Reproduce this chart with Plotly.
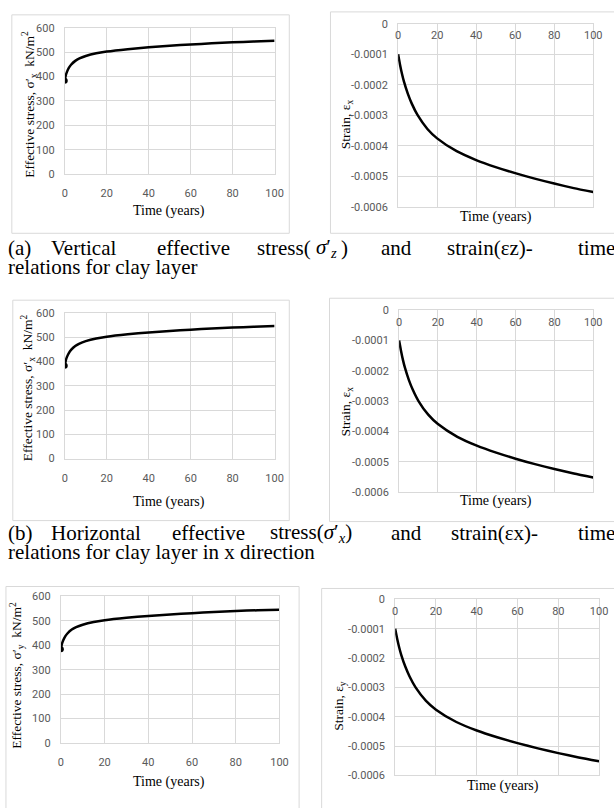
import plotly.graph_objects as go

W, H = 614, 808

# ---------------- data ----------------
time_years = [0, 0.5, 1, 2, 3, 5, 7, 10, 15, 20, 30, 40, 50, 60, 70, 80, 90, 100]

stress_z = [383, 405, 418, 436, 448, 464, 474, 484, 495, 502, 512, 520, 526, 531, 536, 540, 543, 546]
strain_z = [-0.000100, -0.000118, -0.000135, -0.000165, -0.000190, -0.000230, -0.000262, -0.000300,
            -0.000345, -0.000376, -0.000418, -0.000447, -0.000470, -0.000490, -0.000508, -0.000524,
            -0.000539, -0.000552]

stress_x = [383, 405, 418, 436, 448, 464, 474, 484, 495, 502, 512, 520, 526, 531, 536, 540, 543, 546]
strain_x = [-0.000100, -0.000118, -0.000135, -0.000165, -0.000190, -0.000230, -0.000262, -0.000300,
            -0.000345, -0.000376, -0.000418, -0.000447, -0.000470, -0.000490, -0.000508, -0.000524,
            -0.000539, -0.000552]

stress_y = [383, 405, 418, 436, 448, 464, 474, 484, 495, 502, 512, 520, 526, 531, 536, 540, 543, 545]
strain_y = [-0.000100, -0.000118, -0.000135, -0.000165, -0.000190, -0.000230, -0.000262, -0.000300,
            -0.000345, -0.000376, -0.000418, -0.000447, -0.000470, -0.000490, -0.000508, -0.000524,
            -0.000539, -0.000552]

time_ticks = [0, 20, 40, 60, 80, 100]
stress_ticks = [0, 100, 200, 300, 400, 500, 600]
strain_ticks = [0, -0.0001, -0.0002, -0.0003, -0.0004, -0.0005, -0.0006]
strain_tick_labels = ["0", "-0.0001", "-0.0002", "-0.0003", "-0.0004", "-0.0005", "-0.0006"]

stress_titles = ["Effective stress, σ′<sub>x</sub>  kN/m<sup>2</sup>",
                 "Effective stress, σ′<sub>x</sub>  kN/m<sup>2</sup>",
                 "Effective stress, σ′<sub>y</sub>  kN/m<sup>2</sup>"]
strain_titles = ["Strain, ε<sub>x</sub>", "Strain, ε<sub>x</sub>", "Strain, ε<sub>y</sub>"]
time_title = "Time (years)"

# ---------------- helpers ----------------
def px(x):
    return x / W

def py(y):
    return 1 - y / H

GRID = "#d9d9d9"
TICKFONT = dict(family="Liberation Sans Narrow, Roboto, Liberation Sans, sans-serif", size=11, color="#595959")
SERIF = "Liberation Serif, Times New Roman, serif"

# panel geometry (pixels): plot box, frame box, title positions
panels = [
    dict(kind="stress", x=time_years, y=stress_z, plot=(63, 277, 22, 171), frame=(9, 292, 9, 231),
         ytitle=(27, 100), xtitle=(169, 208), title=stress_titles[0]),
    dict(kind="strain", x=time_years, y=strain_z, plot=(403, 602, 18, 204), frame=(334, 640, 6, 231),
         ytitle=(350, 120), xtitle=(503, 214), title=strain_titles[0]),
    dict(kind="stress", x=time_years, y=stress_x, plot=(63, 277, 312, 460), frame=(10, 292, 299, 523),
         ytitle=(26, 388), xtitle=(169, 504), title=stress_titles[1]),
    dict(kind="strain", x=time_years, y=strain_x, plot=(404, 602, 309, 494), frame=(333, 640, 297, 524),
         ytitle=(350, 412), xtitle=(503, 503), title=strain_titles[1]),
    dict(kind="stress", x=time_years, y=stress_y, plot=(59, 282, 600, 749), frame=(3, 302, 590, 830),
         ytitle=(14, 680), xtitle=(169, 789), title=stress_titles[2]),
    dict(kind="strain", x=time_years, y=strain_y, plot=(400, 608, 603, 782), frame=(325, 640, 592, 830),
         ytitle=(343, 711), xtitle=(510, 793), title=strain_titles[2]),
]

fig = go.Figure()
shapes = []
annotations = []

for i, p in enumerate(panels, start=1):
    sfx = "" if i == 1 else str(i)
    x0, x1, y0, y1 = p["plot"]
    fx0, fx1, fy0, fy1 = p["frame"]
    shapes.append(dict(type="rect", xref="paper", yref="paper",
                       x0=px(fx0), x1=px(fx1), y0=py(fy1), y1=py(fy0),
                       line=dict(color=GRID, width=1), fillcolor="white", layer="below"))

    fig.add_trace(go.Scatter(x=p["x"], y=p["y"], mode="lines", xaxis="x" + sfx, yaxis="y" + sfx,
                             line=dict(color="black", width=2.5, shape="spline", smoothing=0.6),
                             showlegend=False, hoverinfo="skip"))
    if p["kind"] == "stress":
        fig.add_trace(go.Scatter(x=p["x"][:1], y=p["y"][:1], mode="markers", xaxis="x" + sfx, yaxis="y" + sfx,
                                 marker=dict(color="black", size=6), showlegend=False, hoverinfo="skip"))

    xa = dict(domain=[px(x0), px(x1)], anchor="y" + sfx, range=[0, 100], tickvals=time_ticks,
              showgrid=True, gridcolor=GRID, gridwidth=1, zeroline=False,
              showline=True, linecolor=GRID, linewidth=1, mirror=True, ticks="",
              tickfont=TICKFONT, fixedrange=True)
    ya = dict(domain=[py(y1), py(y0)], anchor="x" + sfx,
              showgrid=True, gridcolor=GRID, gridwidth=1, zeroline=False,
              showline=True, linecolor=GRID, linewidth=1, mirror=True, ticks="",
              tickfont=TICKFONT, ticklabelstandoff=7, fixedrange=True)
    if p["kind"] == "stress":
        xa.update(side="bottom", ticklabelstandoff=9)
        ya.update(range=[0, 600], tickvals=stress_ticks)
    else:
        xa.update(side="top", ticklabelposition="inside", ticklabeloverflow="allow", ticklabelstandoff=7)
        ya.update(range=[-0.0006, 0], tickvals=strain_ticks, ticktext=strain_tick_labels)
    fig.update_layout(**{"xaxis" + sfx: xa, "yaxis" + sfx: ya})

    tx, ty = p["ytitle"]
    annotations.append(dict(text=p["title"], xref="paper", yref="paper", x=px(tx), y=py(ty),
                            xanchor="center", yanchor="middle", textangle=-90, showarrow=False,
                            font=dict(family=SERIF, size=13.5, color="black")))
    tx, ty = p["xtitle"]
    annotations.append(dict(text=time_title, xref="paper", yref="paper", x=px(tx), y=py(ty),
                            xanchor="center", yanchor="middle", showarrow=False,
                            font=dict(family=SERIF, size=14, color="black")))

# ---------------- captions ----------------
CAP = dict(family="Liberation Serif, Times New Roman, serif", size=21, color="black")
caption_words = [
    # (text, x_px, y_px)
    ("(a)", 3, 246), ("Vertical", 47, 246), ("effective", 155, 246), ("stress(", 257, 246),
    ("<i>σ</i>′<sub><i>z</i></sub>", 317, 246), (")", 343, 246), ("and", 384, 246),
    ("strain(εz)-", 451, 246), ("time", 584, 246),
    ("relations for clay layer", 3, 265),
    ("(b)", 3, 536), ("Horizontal", 47, 536), ("effective", 170, 536),
    ("stress(<i>σ</i>′<sub><i>x</i></sub>)", 270, 536), ("and", 394, 536),
    ("strain(εx)-", 455, 536), ("time", 584, 536),
    ("relations for clay layer in x direction", 3, 555),
]
for t, x, y in caption_words:
    annotations.append(dict(text=t, xref="paper", yref="paper", x=px(x), y=py(y),
                            xanchor="left", yanchor="middle", showarrow=False, font=CAP))

fig.update_layout(width=W, height=H, margin=dict(l=0, r=0, t=0, b=0),
                  paper_bgcolor="white", plot_bgcolor="white",
                  shapes=shapes, annotations=annotations, showlegend=False)

fig.write_html("out.html", config={"displayModeBar": False})
